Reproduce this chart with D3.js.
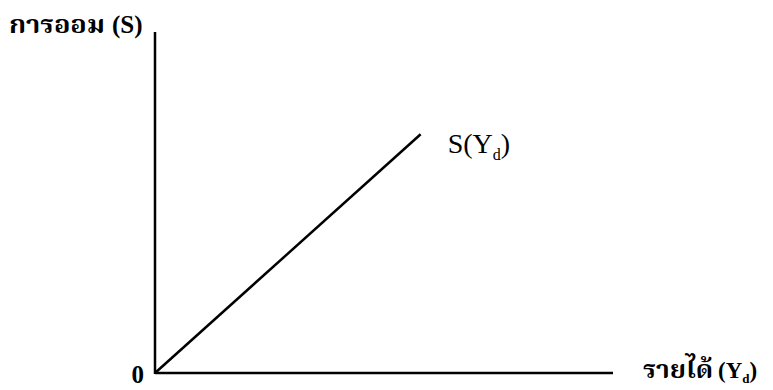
<!DOCTYPE html>
<html>
<head>
<meta charset="utf-8">
<script src="https://cdn.jsdelivr.net/npm/d3@7"></script>
<style>
  body { margin: 0; background: #fff; }
  text { fill: #000; }
</style>
</head>
<body>
<div id="chart"></div>
<script>
// savings function S(Yd)
var income = [0, 58];
var saving = [0, 70];
var axisMax = [100, 100];

var width = 773, height = 390;

var svg = d3.select("#chart").append("svg")
    .attr("width", width)
    .attr("height", height);

var x = d3.scaleLinear().domain([0, axisMax[0]]).range([155, 613]);
var y = d3.scaleLinear().domain([0, axisMax[1]]).range([373, 32]);

// axes
svg.append("line")
    .attr("x1", x(0)).attr("y1", y(0) + 1)
    .attr("x2", x(0)).attr("y2", y(axisMax[1]))
    .style("stroke", "#000").style("stroke-width", 2.5);

svg.append("line")
    .attr("x1", x(0)).attr("y1", y(0))
    .attr("x2", x(axisMax[0])).attr("y2", y(0))
    .style("stroke", "#000").style("stroke-width", 2.5);

// saving line
var line = d3.line()
    .x(function(d) { return x(d[0]); })
    .y(function(d) { return y(d[1]); });

svg.append("path")
    .datum(d3.zip(income, saving))
    .attr("d", line)
    .style("fill", "none")
    .style("stroke", "#000")
    .style("stroke-width", 2.5);

var thai = "'Noto Serif Thai', 'Noto Sans Thai', 'Loma', 'Garuda', 'Tlwg Typo', serif";
var serif = "'Liberation Serif', 'DejaVu Serif', serif";

// y label
var yl = svg.append("text")
    .attr("x", 9).attr("y", 33)
    .style("font-weight", "bold");
yl.append("tspan").style("font-family", thai).style("font-size", "25px")
    .attr("textLength", 96).attr("lengthAdjust", "spacingAndGlyphs").text("การออม");
yl.append("tspan").style("font-family", serif).style("font-size", "25px").attr("dx", 7).text("(S)");

// origin
svg.append("text")
    .attr("x", 144).attr("y", 383)
    .attr("text-anchor", "end")
    .style("font-family", serif)
    .style("font-weight", "bold")
    .style("font-size", "25px")
    .text("0");

// x label
var xl = svg.append("text")
    .attr("x", 643).attr("y", 378)
    .style("font-weight", "bold");
xl.append("tspan").style("font-family", thai).style("font-size", "24px")
    .attr("textLength", 70).attr("lengthAdjust", "spacingAndGlyphs").text("รายได้");
xl.append("tspan").style("font-family", serif).style("font-size", "23px").attr("dx", 5).text("(Y");
xl.append("tspan").style("font-family", serif).style("font-size", "13px").attr("dy", 5).text("d");
xl.append("tspan").style("font-family", serif).style("font-size", "23px").attr("dy", -5).text(")");

// curve label
var cl = svg.append("text")
    .attr("x", x(income[1]) + 27).attr("y", y(saving[1]) + 19)
    .style("font-family", serif)
    .style("font-size", "28px");
cl.append("tspan").text("S(Y");
cl.append("tspan").style("font-size", "16px").attr("dy", 7).text("d");
cl.append("tspan").attr("dy", -7).text(")");
</script>
</body>
</html>
